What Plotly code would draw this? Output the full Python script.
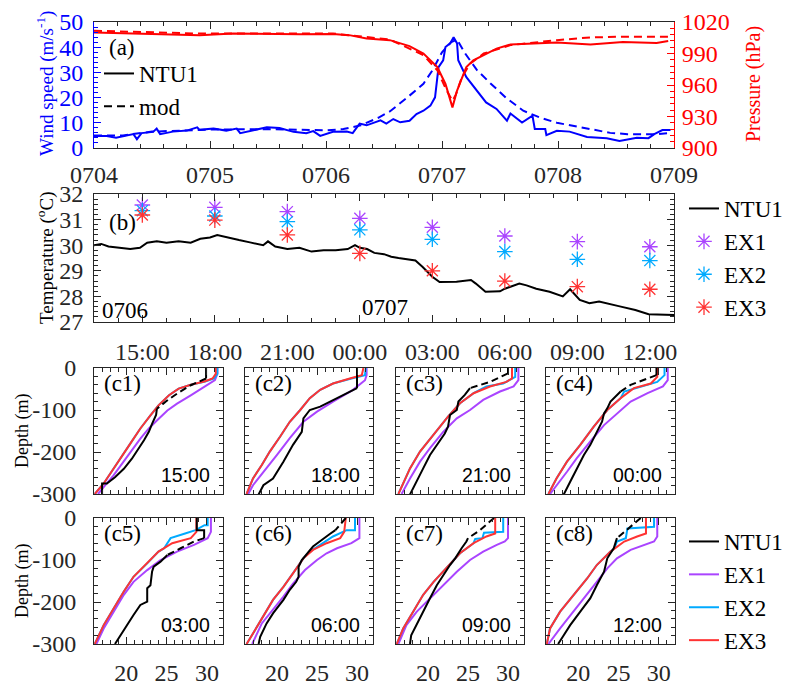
import plotly.graph_objects as go

W, H = 788, 688
SERIF = "Times New Roman, Liberation Serif, DejaVu Serif, Noto Serif, serif"
SANS = "Arial, Liberation Sans, sans-serif"
AXC = "#262626"
BLUE = "#0000FF"
RED = "#FF0000"
C_EX1 = "#AA44FF"
C_EX2 = "#00AAFF"
C_EX3 = "#FF3333"

# ---------------- (a) wind speed and pressure (days since 07-04 00:00) -------------
a_day_ticks = [0, 1, 2, 3, 4, 5]
a_day_labels = ["0704", "0705", "0706", "0707", "0708", "0709"]

wind_obs_day = [0.0, 0.11, 0.19, 0.28, 0.34, 0.37, 0.41, 0.51, 0.54, 0.57, 0.68, 0.80, 0.89, 0.91,
                1.03, 1.14, 1.23, 1.26, 1.37, 1.49, 1.60, 1.72, 1.83, 1.89, 1.95, 2.06, 2.18, 2.23,
                2.29, 2.35, 2.47, 2.52, 2.58, 2.64, 2.72, 2.78, 2.84, 2.90, 2.94, 2.97, 3.01, 3.03,
                3.07, 3.10, 3.13, 3.14, 3.21, 3.30, 3.38, 3.47, 3.56, 3.59, 3.69, 3.78, 3.80, 3.89,
                3.90, 3.99, 4.10, 4.25, 4.42, 4.53, 4.68, 4.78, 4.83, 4.90, 4.97]
wind_obs = [4.8, 4.8, 4.1, 4.8, 5.5, 3.5, 5.9, 6.4, 7.7, 5.5, 6.5, 6.9, 8.2, 7.2,
            7.7, 6.9, 7.7, 5.9, 6.9, 8.2, 7.9, 6.4, 5.9, 6.7, 4.8, 6.4, 6.5, 5.9,
            9.7, 9.0, 11.0, 9.7, 11.5, 10.2, 10.8, 13.5, 14.8, 16.8, 20.1, 32.1, 34.8, 40.1,
            41.5, 43.9, 41.5, 34.8, 28.1, 22.8, 18.1, 15.5, 10.8, 13.7, 10.1, 12.8, 7.5, 7.5,
            5.1, 6.8, 6.5, 4.4, 3.9, 2.8, 4.1, 3.9, 5.5, 7.1, 7.1]

wind_mod_day = [0.0, 0.25, 0.5, 0.75, 1.0, 1.5, 2.0, 2.15, 2.3, 2.45, 2.55, 2.7, 2.84, 2.92, 3.0,
                3.08, 3.13, 3.2, 3.3, 3.41, 3.55, 3.7, 3.85, 3.99, 4.15, 4.28, 4.45, 4.6, 4.85, 4.97]
wind_mod = [5.0, 5.0, 6.5, 7.0, 7.3, 7.5, 7.0, 7.5, 9.0, 12.0, 14.5, 20.0, 25.5, 31.0, 38.0,
            42.0, 43.0, 37.5, 31.0, 26.0, 20.0, 14.8, 12.0, 10.0, 8.5, 7.5, 6.0, 5.5, 5.5, 6.0]

pres_obs_day = [0.0, 0.48, 0.91, 1.2, 1.49, 1.78, 2.06, 2.2, 2.35, 2.55, 2.72, 2.84, 2.96, 3.03,
                3.09, 3.13, 3.17, 3.21, 3.27, 3.36, 3.47, 3.59, 3.76, 3.99, 4.28, 4.56, 4.85, 4.95]
pres_obs = [1010.1, 1008.5, 1007.5, 1009.0, 1008.3, 1008.3, 1008.5, 1007.5, 1004.3, 1002.7, 997.0,
            990.0, 977.0, 961.0, 938.7, 954.7, 966.0, 977.0, 983.5, 988.3, 994.7, 998.6, 999.5,
            1000.5, 998.6, 1001.0, 1000.0, 1002.0]

pres_mod_day = [0.0, 0.9, 2.06, 2.35, 2.55, 2.84, 2.96, 3.04, 3.09, 3.12, 3.17, 3.24, 3.36, 3.59,
                3.99, 4.28, 4.56, 4.95]
pres_mod = [1011.7, 1009.0, 1009.0, 1005.9, 1003.3, 988.5, 974.0, 954.7, 945.0, 951.0, 967.0, 980.0,
            990.0, 998.0, 1002.7, 1005.3, 1006.0, 1006.0]

# ---------------- (b) SST (hours since 07-06 00:00) -------------
b_hour_ticks = [15, 18, 21, 24, 27, 30, 33, 36]
b_hour_labels = ["15:00", "18:00", "21:00", "00:00", "03:00", "06:00", "09:00", "12:00"]

sst_hour = [13.0, 13.3, 13.6, 14.0, 14.5, 14.9, 15.2, 15.6, 16.0, 16.5, 17.0, 17.4, 17.8, 18.1,
            18.5, 19.0, 19.5, 20.0, 20.2, 20.5, 21.0, 21.5, 22.0, 22.5, 23.0, 23.5, 23.8, 24.0,
            24.3, 24.6, 25.0, 25.3, 25.6, 26.0, 26.3, 26.6, 27.0, 27.3, 28.0, 28.6, 28.8, 29.2,
            29.8, 30.0, 30.6, 30.9, 31.3, 31.85, 32.4, 32.7, 33.1, 33.5, 33.9, 34.8, 35.4, 35.95, 37.0]
sst_obs = [30.0, 30.05, 29.95, 29.9, 29.85, 29.9, 30.1, 30.15, 30.1, 30.15, 30.1, 30.25, 30.3, 30.4,
           30.3, 30.2, 30.1, 30.0, 30.15, 29.95, 29.85, 29.9, 29.75, 29.8, 29.8, 29.85, 30.0, 29.9,
           29.85, 29.7, 29.65, 29.55, 29.5, 29.45, 29.4, 29.15, 28.77, 28.56, 28.57, 28.64, 28.5, 28.18,
           28.2, 28.3, 28.5, 28.43, 28.3, 28.18, 28.0, 28.28, 27.86, 27.73, 27.8, 27.6, 27.47, 27.3, 27.27]

ex_hour = [15, 18, 21, 24, 27, 30, 33, 36]
sst_ex1 = [31.57, 31.48, 31.31, 31.05, 30.70, 30.36, 30.14, 29.94]
sst_ex2 = [31.35, 31.14, 30.92, 30.60, 30.23, 29.75, 29.45, 29.40]
sst_ex3 = [31.18, 30.98, 30.40, 29.68, 29.00, 28.60, 28.38, 28.28]

# ---------------- (c) temperature profiles: depth (m, positive down), temperature (degC) ----
prof_times = ["15:00", "18:00", "21:00", "00:00", "03:00", "06:00", "09:00", "12:00"]

# NTU1: solid upper part, dashed (gap) part, solid lower part
ntu_top_d = [[0, 25], [0, 48], [0, 13], [0, 17], [0, 29, 29, 48], [], [], []]
ntu_top_t = [[29.9, 29.9], [30.0, 30.0], [30.0, 30.0], [29.7, 29.7], [28.75, 28.75, 29.66, 29.66], [], [], []]
ntu_gap_d = [[25, 41, 61, 77, 97], [], [13, 21, 33, 48], [17, 25, 40, 56], [48, 56, 72, 88],
             [0, 29], [0, 29, 48], [0, 33, 48]]
ntu_gap_t = [[29.9, 28.0, 26.3, 25.1, 23.8], [], [30.0, 29.1, 27.75, 25.25], [29.7, 28.6, 26.5, 25.25],
             [29.66, 28.4, 26.75, 25.1], [28.6, 27.3], [28.25, 26.5, 25.0], [27.75, 25.7, 24.8]]
ntu_bot_d = [
    [97, 112, 133, 152, 172, 192, 216, 240, 260, 275, 275, 300],
    [48, 76, 92, 100, 120, 152, 183, 223, 263, 279, 301],
    [48, 64, 80, 100, 112, 140, 156, 183, 207, 239, 271, 301],
    [56, 80, 96, 108, 128, 152, 183, 207, 239, 271, 301],
    [88, 104, 116, 128, 160, 167, 199, 207, 231, 255, 300],
    [29, 38, 68, 100, 116, 140, 152, 171, 195, 227, 251, 283, 300],
    [48, 56, 72, 96, 112, 136, 160, 191, 223, 255, 279, 300],
    [48, 72, 96, 128, 160, 191, 223, 255, 279, 300],
]
ntu_bot_t = [
    [23.8, 23.7, 23.2, 22.8, 22.2, 21.5, 20.7, 19.7, 18.6, 17.6, 17.0, 17.0],
    [30.0, 27.0, 25.4, 24.1, 23.3, 23.1, 22.0, 20.8, 19.5, 18.3, 17.7],
    [25.25, 24.6, 23.8, 23.6, 22.75, 22.5, 22.1, 21.1, 20.25, 19.4, 18.6, 17.75],
    [25.25, 24.0, 23.6, 23.2, 22.95, 22.3, 21.5, 20.7, 19.8, 19.0, 18.2],
    [25.1, 24.25, 23.4, 23.2, 23.0, 22.6, 22.6, 21.75, 20.9, 20.1, 18.6],
    [27.3, 26.6, 24.5, 23.1, 22.7, 22.7, 22.4, 21.6, 20.8, 19.5, 18.7, 17.9, 17.7],
    [25.0, 24.8, 24.2, 23.4, 22.75, 21.9, 21.1, 20.25, 19.4, 18.6, 17.9, 17.75],
    [24.8, 24.4, 23.6, 23.2, 22.3, 21.5, 20.25, 19.0, 18.2, 17.5],
]

ex1_d = [
    [0, 14, 29, 37, 49, 65, 85, 101, 125, 144, 168, 196, 224, 256, 279, 300],
    [0, 17, 29, 52, 80, 104, 128, 167, 207, 247, 279, 300],
    [0, 29, 44, 56, 76, 100, 120, 152, 191, 223, 263, 300],
    [0, 29, 44, 60, 80, 108, 136, 175, 215, 247, 279, 300],
    [0, 33, 48, 64, 80, 100, 124, 152, 183, 223, 263, 300],
    [0, 48, 60, 72, 84, 100, 124, 156, 187, 219, 251, 300],
    [0, 48, 56, 64, 80, 100, 128, 160, 191, 223, 255, 300],
    [0, 44, 56, 64, 76, 96, 120, 152, 191, 231, 263, 300],
]
ex1_t = [
    [31.3, 31.3, 31.0, 30.3, 29.25, 28.0, 26.3, 25.1, 23.8, 22.8, 21.75, 20.7, 19.7, 18.4, 17.4, 16.5],
    [31.2, 31.2, 31.0, 29.5, 27.0, 25.0, 23.3, 21.6, 20.0, 18.3, 17.0, 16.4],
    [31.3, 31.3, 30.7, 29.0, 26.9, 25.25, 23.6, 21.9, 20.25, 19.0, 17.75, 16.7],
    [31.1, 31.1, 30.5, 28.6, 26.5, 24.8, 23.2, 21.5, 19.8, 18.6, 17.3, 16.5],
    [30.5, 30.5, 30.1, 28.4, 26.3, 24.25, 22.6, 20.9, 19.7, 18.4, 17.2, 16.3],
    [30.3, 30.3, 29.3, 27.5, 26.2, 25.0, 23.5, 22.0, 20.8, 19.5, 18.1, 16.9],
    [30.0, 30.0, 29.6, 28.6, 26.9, 25.25, 23.6, 21.9, 20.25, 18.6, 17.3, 16.3],
    [29.8, 29.8, 29.4, 28.2, 26.5, 24.8, 23.6, 22.3, 20.7, 19.0, 17.75, 16.3],
]

ex3_d = [
    [0, 14, 25, 32, 40, 49, 65, 89, 113, 144, 180, 216, 248, 275, 300],
    [0, 17, 25, 37, 52, 72, 100, 128, 163, 199, 231, 263, 300],
    [0, 25, 33, 44, 60, 84, 116, 160, 199, 239, 300],
    [0, 21, 37, 48, 72, 100, 140, 183, 223, 263, 300],
    [0, 33, 48, 60, 80, 108, 140, 175, 215, 255, 300],
    [0, 13, 33, 48, 60, 76, 96, 132, 164, 195, 235, 275, 300],
    [0, 37, 44, 60, 84, 120, 152, 183, 223, 263, 300],
    [0, 37, 44, 56, 80, 112, 144, 183, 223, 263, 300],
]
ex3_t = [
    [31.1, 31.1, 30.7, 29.7, 28.0, 26.5, 25.3, 24.0, 23.0, 21.75, 20.5, 19.25, 18.2, 17.2, 16.1],
    [30.8, 30.6, 29.1, 27.0, 25.4, 24.1, 22.9, 21.6, 20.4, 19.1, 18.1, 17.0, 16.2],
    [30.5, 30.5, 29.8, 27.75, 25.7, 24.0, 22.5, 20.7, 19.0, 17.75, 16.3],
    [29.8, 29.8, 29.0, 26.9, 25.25, 23.6, 21.9, 20.25, 18.6, 17.3, 16.3],
    [28.7, 28.7, 28.0, 25.7, 24.0, 22.6, 20.9, 19.7, 18.4, 17.2, 16.1],
    [28.6, 28.5, 28.4, 27.9, 26.2, 24.5, 23.3, 22.0, 20.8, 19.5, 18.3, 17.0, 16.2],
    [28.4, 28.4, 27.3, 25.7, 24.0, 22.3, 20.7, 19.4, 18.2, 16.9, 16.1],
    [28.4, 28.4, 27.3, 25.7, 24.0, 22.3, 21.1, 19.4, 17.75, 16.5, 16.1],
]

# EX2 upper part (where it departs from EX3); below the last point it follows EX3
ex2_top_d = [
    [0, 14, 25, 32],
    [0, 17, 25],
    [0, 21, 37, 44, 60],
    [0, 17, 33, 44, 56, 72],
    [0, 17, 17, 29, 37, 48, 72],
    [0, 29, 29, 44, 64, 80, 96],
    [0, 33, 35, 48, 50, 60],
    [0, 21, 25, 48, 56, 72],
]
ex2_top_t = [
    [31.3, 31.3, 30.9, 29.8],
    [31.1, 31.0, 29.3],
    [30.9, 30.9, 29.4, 27.3, 25.7],
    [30.7, 30.7, 29.8, 27.75, 25.7, 25.25],
    [30.1, 30.1, 29.7, 28.6, 27.3, 25.5, 24.7],
    [29.75, 29.75, 28.7, 27.0, 25.4, 24.1, 23.3],
    [29.4, 29.4, 27.0, 26.8, 25.9, 25.7],
    [29.4, 29.4, 26.1, 25.9, 24.8, 24.5],
]

# ---------------- layout geometry (pixels) ----------------
def xd(l, r):
    return [l / W, r / W]


def yd(t, b):
    return [1 - b / H, 1 - t / H]


A_BOX = (94, 674, 22, 148)
B_BOX = (94, 674, 194, 322)
C_COLS = [(94, 223), (245, 373), (396, 524), (546, 675)]
C_ROWS = [(368, 494), (518, 644)]


def tickfont(color=AXC, size=24):
    return dict(family=SERIF, size=size, color=color)


def axis(**kw):
    d = dict(showline=True, linecolor=AXC, linewidth=1, ticks="inside", ticklen=7, tickwidth=1,
             tickcolor=AXC, mirror="ticks", showgrid=False, zeroline=False, tickfont=tickfont(),
             automargin=False)
    d.update(kw)
    return d


fig = go.Figure()

# (a) traces
fig.add_trace(go.Scatter(x=wind_obs_day, y=wind_obs, mode="lines", line=dict(color=BLUE, width=2),
                         xaxis="x", yaxis="y", showlegend=False))
fig.add_trace(go.Scatter(x=wind_mod_day, y=wind_mod, mode="lines",
                         line=dict(color=BLUE, width=2, dash="8px,5px"),
                         xaxis="x", yaxis="y", showlegend=False))
fig.add_trace(go.Scatter(x=pres_obs_day, y=pres_obs, mode="lines", line=dict(color=RED, width=2),
                         xaxis="x", yaxis="y2", showlegend=False))
fig.add_trace(go.Scatter(x=pres_mod_day, y=pres_mod, mode="lines",
                         line=dict(color=RED, width=2, dash="8px,5px"),
                         xaxis="x", yaxis="y2", showlegend=False))
fig.add_trace(go.Scatter(x=[None], y=[None], mode="lines", name="NTU1", line=dict(color="black", width=2),
                         xaxis="x", yaxis="y", legend="legend"))
fig.add_trace(go.Scatter(x=[None], y=[None], mode="lines", name="mod",
                         line=dict(color="black", width=2, dash="8px,5px"),
                         xaxis="x", yaxis="y", legend="legend"))

# (b) traces
fig.add_trace(go.Scatter(x=sst_hour, y=sst_obs, mode="lines", name="NTU1", line=dict(color="black", width=2),
                         xaxis="x2", yaxis="y3", legend="legend2"))
for name, vals, col in [("EX1", sst_ex1, C_EX1), ("EX2", sst_ex2, C_EX2), ("EX3", sst_ex3, C_EX3)]:
    fig.add_trace(go.Scatter(x=ex_hour, y=vals, mode="markers", name=name,
                             marker=dict(symbol="asterisk-open", size=13, color=col,
                                         line=dict(color=col, width=1.3)),
                             xaxis="x2", yaxis="y3", legend="legend2"))

# (c) traces
for i in range(8):
    xa = "x%d" % (3 + i)
    ya = "y%d" % (4 + i)
    fig.add_trace(go.Scatter(x=ex1_t[i], y=[-d for d in ex1_d[i]], mode="lines", name="EX1",
                             line=dict(color=C_EX1, width=2), xaxis=xa, yaxis=ya,
                             showlegend=False))
    # EX2 = its own upper part + EX3 below the junction depth
    jd = ex2_top_d[i][-1]
    e2d = ex2_top_d[i] + [d for d in ex3_d[i] if d > jd]
    e2t = ex2_top_t[i] + [t for d, t in zip(ex3_d[i], ex3_t[i]) if d > jd]
    fig.add_trace(go.Scatter(x=e2t, y=[-d for d in e2d], mode="lines", name="EX2",
                             line=dict(color=C_EX2, width=2), xaxis=xa, yaxis=ya,
                             showlegend=False))
    fig.add_trace(go.Scatter(x=ex3_t[i], y=[-d for d in ex3_d[i]], mode="lines", name="EX3",
                             line=dict(color=C_EX3, width=2), xaxis=xa, yaxis=ya,
                             showlegend=False))
    if ntu_top_d[i]:
        fig.add_trace(go.Scatter(x=ntu_top_t[i], y=[-d for d in ntu_top_d[i]], mode="lines",
                                 line=dict(color="black", width=2), xaxis=xa, yaxis=ya, showlegend=False))
    if ntu_gap_d[i]:
        fig.add_trace(go.Scatter(x=ntu_gap_t[i], y=[-d for d in ntu_gap_d[i]], mode="lines",
                                 line=dict(color="black", width=2, dash="7px,4px"),
                                 xaxis=xa, yaxis=ya, showlegend=False))
    fig.add_trace(go.Scatter(x=ntu_bot_t[i], y=[-d for d in ntu_bot_d[i]], mode="lines",
                             line=dict(color="black", width=2), xaxis=xa, yaxis=ya, showlegend=False))

# legend entries for (c)
for name, col in [("NTU1", "black"), ("EX1", C_EX1), ("EX2", C_EX2), ("EX3", C_EX3)]:
    fig.add_trace(go.Scatter(x=[None], y=[None], mode="lines", name=name, line=dict(color=col, width=2),
                             xaxis="x3", yaxis="y4", legend="legend3"))

layout = dict(width=W, height=H, margin=dict(l=0, r=0, t=0, b=0, autoexpand=False),
              paper_bgcolor="white", plot_bgcolor="white", showlegend=True,
              font=dict(family=SERIF, color="black"))

# (a) axes
layout["xaxis"] = axis(domain=xd(A_BOX[0], A_BOX[1]), range=[0, 5], tickvals=a_day_ticks,
                       ticktext=a_day_labels, anchor="y", ticklabelstandoff=5,
                       minor=dict(ticks="inside", ticklen=4, tickcolor=AXC, dtick=0.2, tick0=0))
layout["yaxis"] = axis(domain=yd(A_BOX[2], A_BOX[3]), range=[0, 50], dtick=10, anchor="x",
                       linecolor=BLUE, tickcolor=BLUE, tickfont=tickfont(BLUE), mirror=False,
                       ticklabelstandoff=5,
                       minor=dict(ticks="inside", ticklen=4, tickcolor=BLUE, dtick=2))
layout["yaxis2"] = axis(domain=yd(A_BOX[2], A_BOX[3]), range=[900, 1020],
                        tickvals=[900, 930, 960, 990, 1020], anchor="x", overlaying="y", side="right",
                        linecolor=RED, tickcolor=RED, tickfont=tickfont(RED), mirror=False,
                        ticklabelstandoff=2,
                        minor=dict(ticks="inside", ticklen=4, tickcolor=RED, dtick=6))
# (b) axes
layout["xaxis2"] = axis(domain=xd(B_BOX[0], B_BOX[1]), range=[13, 37], tickvals=b_hour_ticks,
                        ticktext=b_hour_labels, anchor="y3", ticklabelstandoff=8,
                        minor=dict(ticks="inside", ticklen=4, tickcolor=AXC, dtick=1, tick0=13))
layout["yaxis3"] = axis(domain=yd(B_BOX[2], B_BOX[3]), range=[27, 32], dtick=1, anchor="x2",
                        ticklabelstandoff=5,
                        minor=dict(ticks="inside", ticklen=4, tickcolor=AXC, dtick=0.2))
# (c) axes
for i in range(8):
    r, c = divmod(i, 4)
    xn = "xaxis%d" % (3 + i)
    yn = "yaxis%d" % (4 + i)
    layout[xn] = axis(domain=xd(*C_COLS[c]), range=[16, 32], tickvals=[20, 25, 30],
                      ticktext=["20", "25", "30"], anchor="y%d" % (4 + i),
                      showticklabels=(r == 1), ticklabelstandoff=7,
                      minor=dict(ticks="inside", ticklen=4, tickcolor=AXC, dtick=1, tick0=16))
    layout[yn] = axis(domain=yd(*C_ROWS[r]), range=[-300, 0], tickvals=[0, -100, -200, -300],
                      ticktext=["0", "-100", "-200", "-300"], anchor="x%d" % (3 + i),
                      showticklabels=(c == 0), ticklabelstandoff=12,
                      minor=dict(ticks="inside", ticklen=4, tickcolor=AXC, dtick=20))

# legends
leg_common = dict(yanchor="top", bgcolor="rgba(0,0,0,0)", borderwidth=0,
                  font=dict(family=SERIF, size=23, color="black"), tracegroupgap=0)
layout["legend"] = dict(leg_common, xanchor="left", x=99 / W, y=1 - 52 / H)
layout["legend2"] = dict(leg_common, xanchor="right", x=1.0, y=1 - 187 / H)
layout["legend3"] = dict(leg_common, xanchor="right", x=1.0, y=1 - 520 / H)

ann = []


def text_ann(x, y, s, xref="paper", yref="paper", size=23, family=SERIF, color="black",
             xanchor="left", yanchor="middle", angle=0):
    ann.append(dict(x=x, y=y, xref=xref, yref=yref, text=s, showarrow=False,
                    font=dict(family=family, size=size, color=color), xanchor=xanchor,
                    yanchor=yanchor, textangle=angle))


# axis titles
text_ann(45 / W, 1 - 84 / H, "Wind speed (m/s<sup>-1</sup>)", size=19, color=BLUE,
         xanchor="center", angle=-90)
text_ann(753 / W, 1 - 84 / H, "Pressure (hPa)", size=20, color=RED, xanchor="center", angle=-90)
text_ann(45 / W, 1 - 258 / H, "Temperature (<sup>o</sup>C)", size=19, xanchor="center", angle=-90)
for r in range(2):
    cy = (C_ROWS[r][0] + C_ROWS[r][1]) / 2
    text_ann(22 / W, 1 - cy / H, "Depth (m)", size=18, xanchor="center", angle=-90)

# panel labels
text_ann(107 / W, 1 - 47 / H, "(a)")
text_ann(107 / W, 1 - 222 / H, "(b)")
text_ann(100 / W, 1 - 310 / H, "0706")
text_ann(24, 27.55, "0707", xref="x2", yref="y3")
for i in range(8):
    r, c = divmod(i, 4)
    l, rr = C_COLS[c]
    top = C_ROWS[r][0]
    text_ann((l + 8) / W, 1 - (top + 15) / H, "(c%d)" % (i + 1))
    text_ann((rr - 11) / W, 1 - (top + 107) / H, prof_times[i], size=19.5, family=SANS,
             xanchor="right")

layout["annotations"] = ann
fig.update_layout(**layout)
fig.write_html("out.html", config={"displayModeBar": False},
               post_script="document.body.style.margin='0px';")
